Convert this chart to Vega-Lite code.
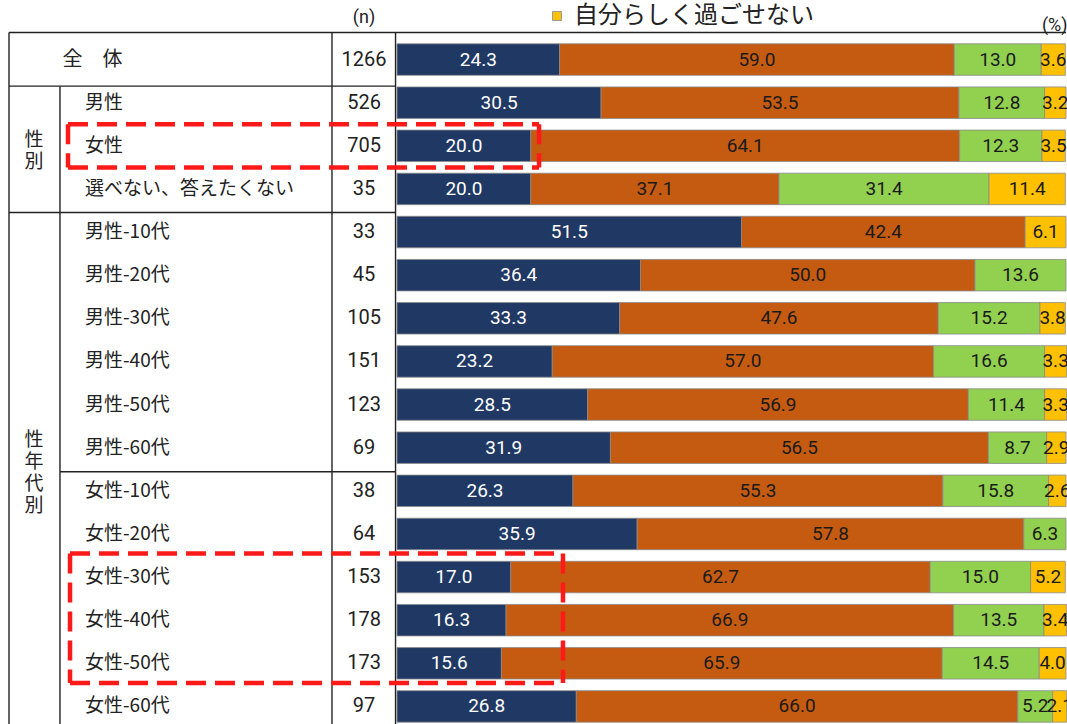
{
  "$schema": "https://vega.github.io/schema/vega-lite/v6.json",
  "width": 1058,
  "height": 690,
  "autosize": {"type": "none"},
  "padding": {"left": 8, "top": 38, "right": 1, "bottom": 0},
  "background": "white",
  "config": {"view": {"stroke": null}, "font": "Noto Sans CJK JP"},
  "datasets": {
    "rows": [
      {"label": "全　体", "n": 1266},
      {"label": "男性", "n": 526},
      {"label": "女性", "n": 705},
      {"label": "選べない、答えたくない", "n": 35},
      {"label": "男性-10代", "n": 33},
      {"label": "男性-20代", "n": 45},
      {"label": "男性-30代", "n": 105},
      {"label": "男性-40代", "n": 151},
      {"label": "男性-50代", "n": 123},
      {"label": "男性-60代", "n": 69},
      {"label": "女性-10代", "n": 38},
      {"label": "女性-20代", "n": 64},
      {"label": "女性-30代", "n": 153},
      {"label": "女性-40代", "n": 178},
      {"label": "女性-50代", "n": 173},
      {"label": "女性-60代", "n": 97}
    ],
    "seg": [
      {"label": "全　体", "cat": "自分らしく過ごせる", "k": 1, "value": 24.3},
      {"label": "全　体", "cat": "どちらかといえば自分らしく過ごせる", "k": 2, "value": 59.0},
      {"label": "全　体", "cat": "どちらかといえば自分らしく過ごせない", "k": 3, "value": 13.0},
      {"label": "全　体", "cat": "自分らしく過ごせない", "k": 4, "value": 3.6},
      {"label": "男性", "cat": "自分らしく過ごせる", "k": 1, "value": 30.5},
      {"label": "男性", "cat": "どちらかといえば自分らしく過ごせる", "k": 2, "value": 53.5},
      {"label": "男性", "cat": "どちらかといえば自分らしく過ごせない", "k": 3, "value": 12.8},
      {"label": "男性", "cat": "自分らしく過ごせない", "k": 4, "value": 3.2},
      {"label": "女性", "cat": "自分らしく過ごせる", "k": 1, "value": 20.0},
      {"label": "女性", "cat": "どちらかといえば自分らしく過ごせる", "k": 2, "value": 64.1},
      {"label": "女性", "cat": "どちらかといえば自分らしく過ごせない", "k": 3, "value": 12.3},
      {"label": "女性", "cat": "自分らしく過ごせない", "k": 4, "value": 3.5},
      {"label": "選べない、答えたくない", "cat": "自分らしく過ごせる", "k": 1, "value": 20.0},
      {"label": "選べない、答えたくない", "cat": "どちらかといえば自分らしく過ごせる", "k": 2, "value": 37.1},
      {"label": "選べない、答えたくない", "cat": "どちらかといえば自分らしく過ごせない", "k": 3, "value": 31.4},
      {"label": "選べない、答えたくない", "cat": "自分らしく過ごせない", "k": 4, "value": 11.4},
      {"label": "男性-10代", "cat": "自分らしく過ごせる", "k": 1, "value": 51.5},
      {"label": "男性-10代", "cat": "どちらかといえば自分らしく過ごせる", "k": 2, "value": 42.4},
      {"label": "男性-10代", "cat": "自分らしく過ごせない", "k": 4, "value": 6.1},
      {"label": "男性-20代", "cat": "自分らしく過ごせる", "k": 1, "value": 36.4},
      {"label": "男性-20代", "cat": "どちらかといえば自分らしく過ごせる", "k": 2, "value": 50.0},
      {"label": "男性-20代", "cat": "どちらかといえば自分らしく過ごせない", "k": 3, "value": 13.6},
      {"label": "男性-30代", "cat": "自分らしく過ごせる", "k": 1, "value": 33.3},
      {"label": "男性-30代", "cat": "どちらかといえば自分らしく過ごせる", "k": 2, "value": 47.6},
      {"label": "男性-30代", "cat": "どちらかといえば自分らしく過ごせない", "k": 3, "value": 15.2},
      {"label": "男性-30代", "cat": "自分らしく過ごせない", "k": 4, "value": 3.8},
      {"label": "男性-40代", "cat": "自分らしく過ごせる", "k": 1, "value": 23.2},
      {"label": "男性-40代", "cat": "どちらかといえば自分らしく過ごせる", "k": 2, "value": 57.0},
      {"label": "男性-40代", "cat": "どちらかといえば自分らしく過ごせない", "k": 3, "value": 16.6},
      {"label": "男性-40代", "cat": "自分らしく過ごせない", "k": 4, "value": 3.3},
      {"label": "男性-50代", "cat": "自分らしく過ごせる", "k": 1, "value": 28.5},
      {"label": "男性-50代", "cat": "どちらかといえば自分らしく過ごせる", "k": 2, "value": 56.9},
      {"label": "男性-50代", "cat": "どちらかといえば自分らしく過ごせない", "k": 3, "value": 11.4},
      {"label": "男性-50代", "cat": "自分らしく過ごせない", "k": 4, "value": 3.3},
      {"label": "男性-60代", "cat": "自分らしく過ごせる", "k": 1, "value": 31.9},
      {"label": "男性-60代", "cat": "どちらかといえば自分らしく過ごせる", "k": 2, "value": 56.5},
      {"label": "男性-60代", "cat": "どちらかといえば自分らしく過ごせない", "k": 3, "value": 8.7},
      {"label": "男性-60代", "cat": "自分らしく過ごせない", "k": 4, "value": 2.9},
      {"label": "女性-10代", "cat": "自分らしく過ごせる", "k": 1, "value": 26.3},
      {"label": "女性-10代", "cat": "どちらかといえば自分らしく過ごせる", "k": 2, "value": 55.3},
      {"label": "女性-10代", "cat": "どちらかといえば自分らしく過ごせない", "k": 3, "value": 15.8},
      {"label": "女性-10代", "cat": "自分らしく過ごせない", "k": 4, "value": 2.6},
      {"label": "女性-20代", "cat": "自分らしく過ごせる", "k": 1, "value": 35.9},
      {"label": "女性-20代", "cat": "どちらかといえば自分らしく過ごせる", "k": 2, "value": 57.8},
      {"label": "女性-20代", "cat": "どちらかといえば自分らしく過ごせない", "k": 3, "value": 6.3},
      {"label": "女性-30代", "cat": "自分らしく過ごせる", "k": 1, "value": 17.0},
      {"label": "女性-30代", "cat": "どちらかといえば自分らしく過ごせる", "k": 2, "value": 62.7},
      {"label": "女性-30代", "cat": "どちらかといえば自分らしく過ごせない", "k": 3, "value": 15.0},
      {"label": "女性-30代", "cat": "自分らしく過ごせない", "k": 4, "value": 5.2},
      {"label": "女性-40代", "cat": "自分らしく過ごせる", "k": 1, "value": 16.3},
      {"label": "女性-40代", "cat": "どちらかといえば自分らしく過ごせる", "k": 2, "value": 66.9},
      {"label": "女性-40代", "cat": "どちらかといえば自分らしく過ごせない", "k": 3, "value": 13.5},
      {"label": "女性-40代", "cat": "自分らしく過ごせない", "k": 4, "value": 3.4},
      {"label": "女性-50代", "cat": "自分らしく過ごせる", "k": 1, "value": 15.6},
      {"label": "女性-50代", "cat": "どちらかといえば自分らしく過ごせる", "k": 2, "value": 65.9},
      {"label": "女性-50代", "cat": "どちらかといえば自分らしく過ごせない", "k": 3, "value": 14.5},
      {"label": "女性-50代", "cat": "自分らしく過ごせない", "k": 4, "value": 4.0},
      {"label": "女性-60代", "cat": "自分らしく過ごせる", "k": 1, "value": 26.8},
      {"label": "女性-60代", "cat": "どちらかといえば自分らしく過ごせる", "k": 2, "value": 66.0},
      {"label": "女性-60代", "cat": "どちらかといえば自分らしく過ごせない", "k": 3, "value": 5.2},
      {"label": "女性-60代", "cat": "自分らしく過ごせない", "k": 4, "value": 2.1}
    ]
  },
  "encoding": {
    "y": {
      "field": "label",
      "type": "nominal",
      "scale": {
        "domain": ["全　体", "男性", "女性", "選べない、答えたくない", "男性-10代", "男性-20代", "男性-30代", "男性-40代", "男性-50代", "男性-60代", "女性-10代", "女性-20代", "女性-30代", "女性-40代", "女性-50代", "女性-60代"],
        "paddingInner": 0,
        "paddingOuter": 0
      },
      "axis": null
    }
  },
  "layer": [
    {
      "data": {"name": "seg"},
      "mark": {"type": "bar", "height": {"band": 0.73}, "stroke": "#8a8a8a", "strokeWidth": 0.8},
      "encoding": {
        "x": {"field": "value", "type": "quantitative", "stack": "zero", "scale": {"domain": [-58.15, 100], "nice": false, "zero": false}, "axis": null},
        "color": {
          "field": "cat",
          "type": "nominal",
          "scale": {
            "domain": ["自分らしく過ごせる", "どちらかといえば自分らしく過ごせる", "どちらかといえば自分らしく過ごせない", "自分らしく過ごせない"],
            "range": ["#203864", "#c55a11", "#92d050", "#ffc000"]
          },
          "legend": {
            "orient": "none",
            "legendX": 537,
            "legendY": -34,
            "values": ["自分らしく過ごせない"],
            "title": null,
            "symbolType": "square",
            "symbolSize": 80,
            "symbolStrokeColor": "#999999",
            "symbolStrokeWidth": 1,
            "labelFontSize": 24,
            "labelFont": "Noto Sans CJK JP",
            "labelColor": "#222222",
            "labelLimit": 400,
            "labelOffset": 5
          }
        },
        "order": {"field": "k", "type": "quantitative"}
      }
    },
    {
      "data": {"name": "seg"},
      "mark": {"type": "text", "align": "center", "baseline": "middle", "font": "Roboto", "fontSize": 19},
      "encoding": {
        "x": {"field": "value", "type": "quantitative", "stack": "zero", "bandPosition": 0.5},
        "detail": {"field": "cat"},
        "order": {"field": "k", "type": "quantitative"},
        "text": {"field": "value", "type": "quantitative", "format": ".1f"},
        "color": {"condition": {"test": "datum.k === 1", "value": "#ffffff"}, "value": "#1a1a1a"}
      }
    },
    {
      "data": {"name": "rows"},
      "transform": [{"filter": "datum.label !== '全　体'"}],
      "mark": {"type": "text", "align": "left", "baseline": "middle", "fontSize": 19, "color": "#222222"},
      "encoding": {
        "x": {"datum": -46.64, "type": "quantitative"},
        "text": {"field": "label"}
      }
    },
    {
      "data": {"name": "rows"},
      "transform": [{"filter": "datum.label === '全　体'"}],
      "mark": {"type": "text", "align": "left", "baseline": "middle", "fontSize": 20, "color": "#222222"},
      "encoding": {
        "x": {"datum": -50.0, "type": "quantitative"},
        "text": {"field": "label"}
      }
    },
    {
      "data": {"name": "rows"},
      "mark": {"type": "text", "align": "center", "baseline": "middle", "font": "Roboto", "fontSize": 20, "color": "#222222"},
      "encoding": {
        "x": {"datum": -4.93, "type": "quantitative"},
        "text": {"field": "n"}
      }
    },
    {
      "data": {"values": [{}]},
      "mark": {"type": "text", "align": "center", "baseline": "middle", "fontSize": 19, "lineHeight": 22, "color": "#222222", "dy": -6},
      "encoding": {
        "x": {"datum": -54.26, "type": "quantitative"},
        "y": {"datum": "女性", "type": "nominal"},
        "text": {"value": ["性", "別"]}
      }
    },
    {
      "data": {"values": [{}]},
      "mark": {"type": "text", "align": "center", "baseline": "middle", "fontSize": 19, "lineHeight": 22, "color": "#222222", "dy": -29},
      "encoding": {
        "x": {"datum": -54.26, "type": "quantitative"},
        "y": {"datum": "男性-60代", "type": "nominal", "bandPosition": 1},
        "text": {"value": ["性", "年", "代", "別"]}
      }
    },
    {
      "data": {"values": [{}]},
      "mark": {"type": "text", "align": "center", "baseline": "middle", "font": "Roboto", "fontSize": 18, "color": "#222222", "dy": -20},
      "encoding": {
        "x": {"datum": -4.93, "type": "quantitative"},
        "y": {"datum": "全　体", "type": "nominal", "bandPosition": 0},
        "text": {"value": "(n)"}
      }
    },
    {
      "data": {"values": [{}]},
      "mark": {"type": "text", "align": "left", "baseline": "middle", "font": "Roboto", "fontSize": 18, "color": "#222222", "dy": -12},
      "encoding": {
        "x": {"datum": 96.4, "type": "quantitative"},
        "y": {"datum": "全　体", "type": "nominal", "bandPosition": 0},
        "text": {"value": "(%)"}
      }
    },
    {
      "data": {"values": [{}]},
      "mark": {"type": "rule", "color": "#222222", "strokeWidth": 1.4, "yOffset": -5.5},
      "encoding": {
        "x": {"datum": -58.0, "type": "quantitative"},
        "x2": {"datum": 100},
        "y": {"datum": "全　体", "type": "nominal", "bandPosition": 0}
      }
    },
    {
      "data": {"values": [{}]},
      "mark": {"type": "rule", "color": "#222222", "strokeWidth": 1.4, "yOffset": 5},
      "encoding": {
        "x": {"datum": -58.0, "type": "quantitative"},
        "x2": {"datum": -0.22},
        "y": {"datum": "男性", "type": "nominal", "bandPosition": 0}
      }
    },
    {
      "data": {"values": [{}]},
      "mark": {"type": "rule", "color": "#222222", "strokeWidth": 1.4, "yOffset": 2},
      "encoding": {
        "x": {"datum": -58.0, "type": "quantitative"},
        "x2": {"datum": -0.22},
        "y": {"datum": "男性-10代", "type": "nominal", "bandPosition": 0}
      }
    },
    {
      "data": {"values": [{}]},
      "mark": {"type": "rule", "color": "#222222", "strokeWidth": 1.4, "yOffset": 2.5},
      "encoding": {
        "x": {"datum": -50.38, "type": "quantitative"},
        "x2": {"datum": -0.22},
        "y": {"datum": "女性-10代", "type": "nominal", "bandPosition": 0}
      }
    },
    {
      "data": {"values": [{}]},
      "mark": {"type": "rule", "color": "#222222", "strokeWidth": 1.4, "yOffset": -5.5},
      "encoding": {
        "x": {"datum": -58.0, "type": "quantitative"},
        "y": {"datum": "全　体", "type": "nominal", "bandPosition": 0},
        "y2": {"datum": "女性-60代", "bandPosition": 1}
      }
    },
    {
      "data": {"values": [{}]},
      "mark": {"type": "rule", "color": "#222222", "strokeWidth": 1.4, "yOffset": 5},
      "encoding": {
        "x": {"datum": -50.38, "type": "quantitative"},
        "y": {"datum": "男性", "type": "nominal", "bandPosition": 0},
        "y2": {"datum": "女性-60代", "bandPosition": 1}
      }
    },
    {
      "data": {"values": [{}]},
      "mark": {"type": "rule", "color": "#222222", "strokeWidth": 1.4, "yOffset": -5.5},
      "encoding": {
        "x": {"datum": -9.72, "type": "quantitative"},
        "y": {"datum": "全　体", "type": "nominal", "bandPosition": 0},
        "y2": {"datum": "女性-60代", "bandPosition": 1}
      }
    },
    {
      "data": {"values": [{}]},
      "mark": {"type": "rule", "color": "#222222", "strokeWidth": 1.4, "yOffset": -5.5},
      "encoding": {
        "x": {"datum": -0.22, "type": "quantitative"},
        "y": {"datum": "全　体", "type": "nominal", "bandPosition": 0},
        "y2": {"datum": "女性-60代", "bandPosition": 1}
      }
    },
    {
      "data": {"values": [{}]},
      "mark": {"type": "rule", "color": "#ff1a1a", "strokeWidth": 4.5, "strokeDash": [20, 9]},
      "encoding": {
        "x": {"datum": -49.18, "type": "quantitative"},
        "x2": {"datum": 21.23},
        "y": {"datum": "女性", "type": "nominal", "bandPosition": 0}
      }
    },
    {
      "data": {"values": [{}]},
      "mark": {"type": "rule", "color": "#ff1a1a", "strokeWidth": 4.5, "strokeDash": [20, 9]},
      "encoding": {
        "x": {"datum": -49.18, "type": "quantitative"},
        "x2": {"datum": 21.23},
        "y": {"datum": "女性", "type": "nominal", "bandPosition": 1}
      }
    },
    {
      "data": {"values": [{}]},
      "mark": {"type": "rule", "color": "#ff1a1a", "strokeWidth": 4.5, "strokeDash": [20, 9]},
      "encoding": {
        "x": {"datum": -49.18, "type": "quantitative"},
        "y": {"datum": "女性", "type": "nominal", "bandPosition": 0},
        "y2": {"datum": "女性", "bandPosition": 1}
      }
    },
    {
      "data": {"values": [{}]},
      "mark": {"type": "rule", "color": "#ff1a1a", "strokeWidth": 4.5, "strokeDash": [20, 9]},
      "encoding": {
        "x": {"datum": 21.23, "type": "quantitative"},
        "y": {"datum": "女性", "type": "nominal", "bandPosition": 0},
        "y2": {"datum": "女性", "bandPosition": 1}
      }
    },
    {
      "data": {"values": [{}]},
      "mark": {"type": "rule", "color": "#ff1a1a", "strokeWidth": 4.5, "strokeDash": [20, 9], "yOffset": -2},
      "encoding": {
        "x": {"datum": -48.88, "type": "quantitative"},
        "x2": {"datum": 24.81},
        "y": {"datum": "女性-30代", "type": "nominal", "bandPosition": 0}
      }
    },
    {
      "data": {"values": [{}]},
      "mark": {"type": "rule", "color": "#ff1a1a", "strokeWidth": 4.5, "strokeDash": [20, 9], "yOffset": -2},
      "encoding": {
        "x": {"datum": -48.88, "type": "quantitative"},
        "x2": {"datum": 24.81},
        "y": {"datum": "女性-50代", "type": "nominal", "bandPosition": 1}
      }
    },
    {
      "data": {"values": [{}]},
      "mark": {"type": "rule", "color": "#ff1a1a", "strokeWidth": 4.5, "strokeDash": [20, 9], "yOffset": -2, "y2Offset": -2},
      "encoding": {
        "x": {"datum": -48.88, "type": "quantitative"},
        "y": {"datum": "女性-30代", "type": "nominal", "bandPosition": 0},
        "y2": {"datum": "女性-50代", "bandPosition": 1}
      }
    },
    {
      "data": {"values": [{}]},
      "mark": {"type": "rule", "color": "#ff1a1a", "strokeWidth": 4.5, "strokeDash": [20, 9], "yOffset": -2, "y2Offset": -2},
      "encoding": {
        "x": {"datum": 24.81, "type": "quantitative"},
        "y": {"datum": "女性-30代", "type": "nominal", "bandPosition": 0},
        "y2": {"datum": "女性-50代", "bandPosition": 1}
      }
    }
  ]
}
